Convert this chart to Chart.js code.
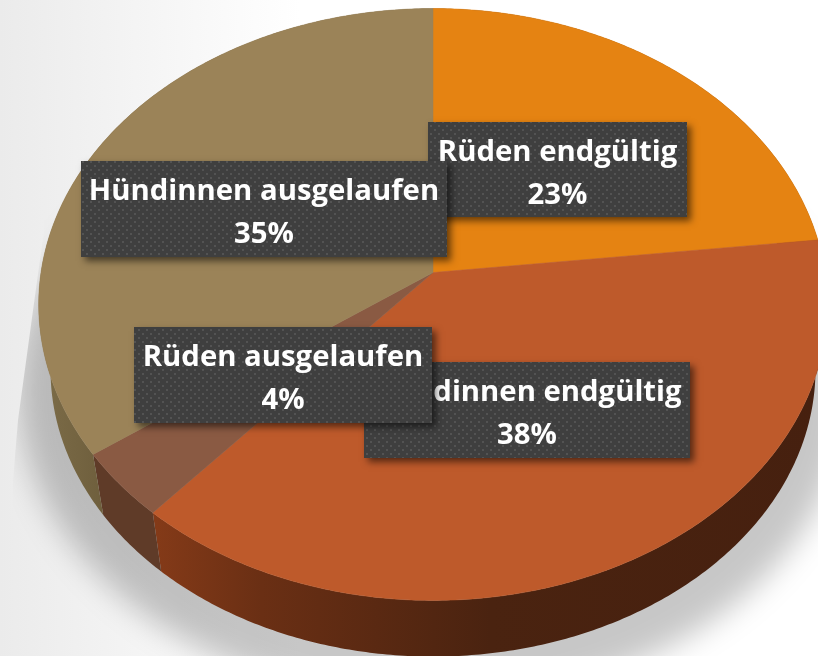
<!DOCTYPE html>
<html>
<head>
<meta charset="utf-8">
<script src="https://cdn.jsdelivr.net/npm/chart.js@4"></script>
<style>
html,body{margin:0;padding:0;background:#fff;overflow:hidden}
canvas{display:block}
</style>
</head>
<body>
<canvas id="c" width="818" height="656"></canvas>
<script>
const categories = ["Rüden endgültig", "Hündinnen endgültig", "Rüden ausgelaufen", "Hündinnen ausgelaufen"];
const shares = [23.2, 38.2, 3.7, 34.9];
const topColors = ["#E58312", "#BE5A2B", "#8A5A43", "#9B8358"];
const sideStops = [
  [[0, "#7a4208"], [1, "#7a4208"]],
  [[0.19, "#843a18"], [0.32, "#6a2f14"], [0.6, "#4a2310"], [1, "#46200f"]],
  [[0, "#5f3b28"], [1, "#5f3b28"]],
  [[0.05, "#7c6c48"], [0.13, "#6e5e3c"]]
];
const labelBoxes = [[428, 122, 259, 95], [364, 362, 326, 96], [134, 327, 298, 96], [81, 161, 366, 96]];

const P = {x0: 433, y0: 272.5, c: 392, a: 292.5, b: -0.108};
function project(theta, k, dy) {
  const u = Math.sin(theta), v = -Math.cos(theta);
  const d = 1 + P.b * v;
  return [P.x0 + k * P.c * u / d, P.y0 + dy + k * P.a * v / d];
}
function arcPoints(start, end, k, dy) {
  const n = Math.max(2, Math.ceil((end - start) / 0.01));
  const pts = [];
  for (let i = 0; i <= n; i++) pts.push(project(start + (end - start) * i / n, k, dy));
  return pts;
}
function tracePoly(ctx, pts) {
  ctx.beginPath();
  pts.forEach((p, i) => i ? ctx.lineTo(p[0], p[1]) : ctx.moveTo(p[0], p[1]));
  ctx.closePath();
}
function dotPattern(ctx) {
  const t = document.createElement("canvas");
  t.width = 8; t.height = 8;
  const g = t.getContext("2d");
  g.fillStyle = "#3f3f3f"; g.fillRect(0, 0, 8, 8);
  g.fillStyle = "#535353";
  g.fillRect(2, 1, 2, 2); g.fillRect(6, 5, 2, 2);
  return ctx.createPattern(t, "repeat");
}

const pie3d = {
  id: "pie3d",
  beforeDraw(chart) {
    const ctx = chart.ctx;
    ctx.save();
    const g = ctx.createLinearGradient(0, 0, 300, 0);
    g.addColorStop(0, "#ebebeb");
    g.addColorStop(1, "#ffffff");
    ctx.fillStyle = g;
    ctx.fillRect(0, 0, 818, 656);
    // soft cast shadow below the disc, with its slanted left cut
    tracePoly(ctx, [[44, 0], [44, 230], [18, 420], [13, 480], [13, 656], [818, 656], [818, 0]]);
    ctx.clip();
    ctx.filter = "blur(15px)";
    ctx.fillStyle = "rgba(0,0,0,0.22)";
    tracePoly(ctx, arcPoints(0, Math.PI * 2, 1.05, 85));
    ctx.fill();
    ctx.restore();
  },
  beforeDatasetDraw(chart, args) {
    const ctx = chart.ctx;
    const arcs = chart.getDatasetMeta(args.index).data;
    const spans = arcs.map(el => [el.startAngle + Math.PI / 2, el.endAngle + Math.PI / 2]);
    ctx.save();
    spans.forEach((s, i) => {
      const top = arcPoints(s[0], s[1], 1, 0);
      const bottom = arcPoints(s[0], s[1], 0.97, 66).reverse();
      const g = ctx.createLinearGradient(0, 0, 818, 0);
      sideStops[i].forEach(st => g.addColorStop(st[0], st[1]));
      ctx.fillStyle = g;
      tracePoly(ctx, top.concat(bottom));
      ctx.fill();
    });
    spans.forEach((s, i) => {
      ctx.fillStyle = topColors[i];
      ctx.strokeStyle = topColors[i];
      ctx.lineWidth = 0.5;
      tracePoly(ctx, [[P.x0, P.y0]].concat(arcPoints(s[0], s[1], 1, 0)));
      ctx.fill();
      ctx.stroke();
    });
    ctx.restore();
    return false;
  },
  afterDatasetsDraw(chart) {
    const ctx = chart.ctx;
    const pat = dotPattern(ctx);
    ctx.save();
    categories.forEach((name, i) => {
      const [x, y, w, h] = labelBoxes[i];
      ctx.save();
      ctx.shadowColor = "rgba(0,0,0,0.55)";
      ctx.shadowBlur = 7;
      ctx.shadowOffsetX = 4;
      ctx.shadowOffsetY = 4;
      ctx.fillStyle = "#3f3f3f";
      ctx.fillRect(x, y, w, h);
      ctx.restore();
      ctx.fillStyle = pat;
      ctx.fillRect(x, y, w, h);
      ctx.fillStyle = "#ffffff";
      ctx.font = "700 29.3px 'Open Sans'";
      ctx.textAlign = "center";
      ctx.textBaseline = "alphabetic";
      ctx.fillText(name, x + w / 2, y + 39);
      ctx.fillText(Math.round(shares[i]) + "%", x + w / 2, y + 82);
    });
    ctx.restore();
  }
};

new Chart(document.getElementById("c"), {
  type: "pie",
  data: {labels: categories, datasets: [{data: shares, backgroundColor: topColors, borderWidth: 0}]},
  options: {
    responsive: false,
    animation: false,
    rotation: 0,
    plugins: {legend: {display: false}, tooltip: {enabled: false}, title: {display: false}}
  },
  plugins: [pie3d]
});
</script>
</body>
</html>
